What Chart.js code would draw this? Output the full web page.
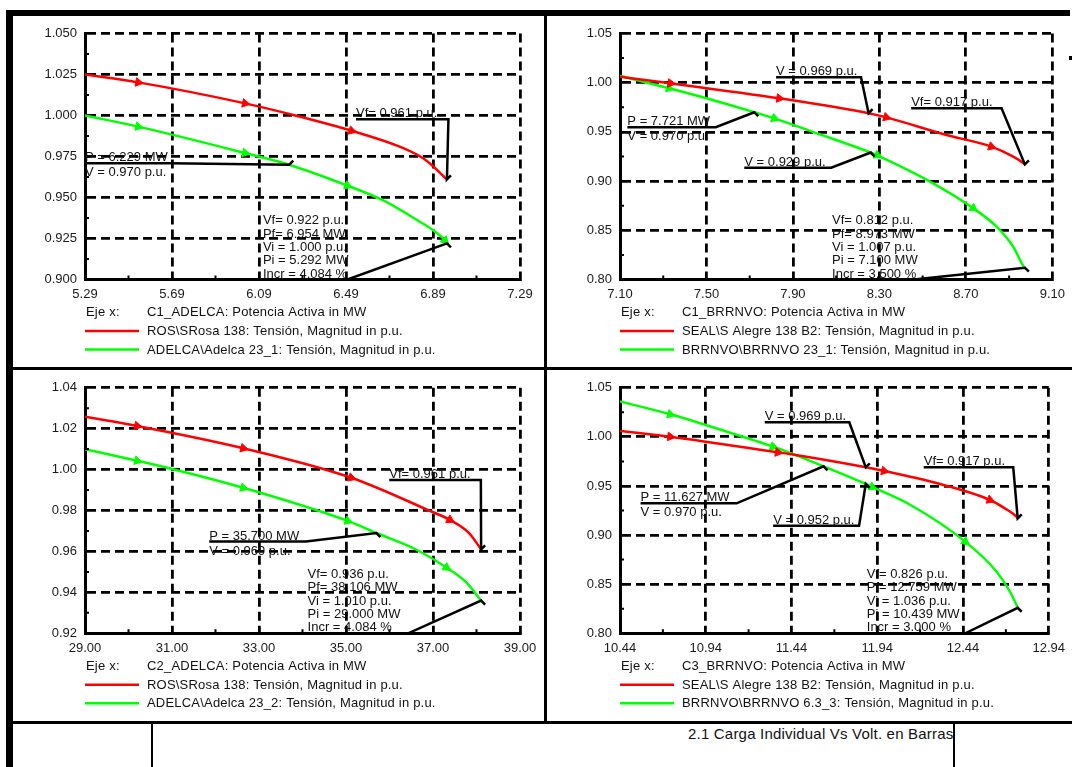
<!DOCTYPE html>
<html>
<head>
<meta charset="utf-8">
<script src="https://cdn.jsdelivr.net/npm/chart.js@4.4.1/dist/chart.umd.min.js"></script>
<style>
  html, body { margin: 0; padding: 0; background: #fff; }
  body { width: 1072px; height: 767px; position: relative; overflow: hidden;
         font-family: "Liberation Sans", Arial, sans-serif; }
  .bar { position: absolute; background: #000; z-index: 3; }
  canvas { position: absolute; }
  #title { position: absolute; left: 688px; top: 724px; height: 19px; line-height: 19px;
           font-size: 15px; color: #111; white-space: nowrap; z-index: 2; letter-spacing: 0.2px; }
</style>
</head>
<body>
<!-- sheet frame -->
<div class="bar" style="left:6px;top:10px;width:1064px;height:6px"></div>
<div class="bar" style="left:6px;top:10px;width:7px;height:757px"></div>
<div class="bar" style="left:544px;top:16px;width:3px;height:706px"></div>
<div class="bar" style="left:13px;top:367px;width:1059px;height:3px"></div>
<div class="bar" style="left:13px;top:721px;width:1059px;height:3px"></div>
<div class="bar" style="left:151px;top:724px;width:2px;height:43px"></div>
<div class="bar" style="left:953px;top:724px;width:2px;height:43px"></div>
<div class="bar" style="left:1069px;top:56px;width:3px;height:4px"></div>
<div id="title">2.1 Carga Individual Vs Volt. en Barras</div>

<canvas id="c1"></canvas>
<canvas id="c2"></canvas>
<canvas id="c3"></canvas>
<canvas id="c4"></canvas>

<script>
// ---------- C1_ADELCA ----------
const p1XTicks = ['5.29', '5.69', '6.09', '6.49', '6.89', '7.29'];
const p1YTicks = ['0.900', '0.925', '0.950', '0.975', '1.000', '1.025', '1.050'];
const p1RedP   = [5.29, 5.535, 6.026, 6.257, 6.516, 6.737, 6.841, 6.889, 6.937, 6.954];
const p1RedV   = [1.025, 1.0202, 1.0074, 1.000, 0.9907, 0.981, 0.9742, 0.9692, 0.9631, 0.961];
const p1RedMarks = [1, 2, 4];
const p1GreenP = [5.29, 5.535, 6.026, 6.229, 6.497, 6.657, 6.816, 6.889, 6.945, 6.954];
const p1GreenV = [1.000, 0.9932, 0.9771, 0.970, 0.9572, 0.9485, 0.9363, 0.9302, 0.9238, 0.922];
const p1GreenMarks = [1, 2, 4, 8];

// ---------- C1_BRRNVO ----------
const p2XTicks = ['7.10', '7.50', '7.90', '8.30', '8.70', '9.10'];
const p2YTicks = ['0.80', '0.85', '0.90', '0.95', '1.00', '1.05'];
const p2RedP   = [7.10, 7.334, 7.837, 8.25, 8.332, 8.61, 8.818, 8.919, 8.968, 8.973];
const p2RedV   = [1.006, 0.9994, 0.9841, 0.969, 0.9648, 0.9469, 0.935, 0.9248, 0.918, 0.917];
const p2RedMarks = [1, 2, 4, 6];
const p2GreenP = [7.10, 7.327, 7.528, 7.721, 7.814, 7.992, 8.26, 8.29, 8.53, 8.734, 8.842, 8.919, 8.968, 8.973];
const p2GreenV = [1.007, 0.9943, 0.9824, 0.970, 0.9638, 0.950, 0.929, 0.9262, 0.900, 0.8724, 0.8537, 0.8333, 0.813, 0.812];
const p2GreenMarks = [1, 4, 7, 9];

// ---------- C2_ADELCA ----------
const p3XTicks = ['29.00', '31.00', '33.00', '35.00', '37.00', '39.00'];
const p3YTicks = ['0.92', '0.94', '0.96', '0.98', '1.00', '1.02', '1.04'];
const p3RedP   = [29.00, 30.20, 32.64, 35.12, 36.91, 37.39, 37.83, 38.106];
const p3RedV   = [1.0258, 1.0213, 1.0104, 0.996, 0.980, 0.9754, 0.969, 0.961];
const p3RedMarks = [1, 2, 3, 5];
const p3GreenP = [29.00, 30.20, 31.00, 32.64, 35.04, 35.70, 36.63, 37.31, 37.75, 38.106];
const p3GreenV = [1.010, 1.0043, 1.0003, 0.9911, 0.9749, 0.969, 0.9607, 0.9521, 0.9452, 0.936];
const p3GreenMarks = [1, 3, 4, 7];

// ---------- C3_BRRNVO ----------
const p4XTicks = ['10.44', '10.94', '11.44', '11.94', '12.44', '12.94'];
const p4YTicks = ['0.80', '0.85', '0.90', '0.95', '1.00', '1.05'];
const p4RedP   = [10.44, 10.733, 11.361, 11.438, 11.873, 11.98, 12.327, 12.597, 12.684, 12.752, 12.759];
const p4RedV   = [1.006, 1.0001, 0.9842, 0.9822, 0.969, 0.9652, 0.951, 0.9357, 0.9272, 0.9187, 0.917];
const p4RedMarks = [1, 2, 5, 7];
const p4GreenP = [10.44, 10.733, 11.033, 11.333, 11.438, 11.627, 11.873, 11.91, 12.134, 12.453, 12.636, 12.714, 12.752, 12.759];
const p4GreenV = [1.036, 1.0229, 1.0069, 0.990, 0.9832, 0.970, 0.952, 0.949, 0.9306, 0.8933, 0.8627, 0.8423, 0.8288, 0.826];
const p4GreenMarks = [1, 3, 7, 9];

const RED = '#ff0000';
const GREEN = '#00ff00';
const FONT = '"Liberation Sans", Arial, sans-serif';

// cursor labels: text block anchored at (left, under) in data units,
// underline runs to "knee", then a leader goes to the marked value "at"
const p1Notes = [
  { lines: ['Vf= 0.961 p.u.'], above: 1, left: 6.536, under: 0.9977, knee: 6.961, at: [6.954, 0.961] },
  { lines: ['P = 6.229 MW', 'V = 0.970 p.u.'], above: 1, left: 5.29, under: 0.9709, knee: 5.681, at: [6.229, 0.970] },
  { lines: ['Vf= 0.922 p.u.', 'Pf= 6.954 MW', 'Vi = 1.000 p.u.', 'Pi = 5.292 MW', 'Incr = 4.084 %'],
    above: 5, left: 6.108, under: 0.900, knee: 6.497, at: [6.954, 0.922] }
];
const p2Notes = [
  { lines: ['V = 0.969 p.u.'], above: 1, left: 7.822, under: 1.0055, knee: 8.215, at: [8.25, 0.969] },
  { lines: ['Vf= 0.917 p.u.'], above: 1, left: 8.447, under: 0.974, knee: 8.865, at: [8.973, 0.917] },
  { lines: ['P = 7.721 MW', 'V = 0.970 p.u.'], above: 1, left: 7.134, under: 0.9547, knee: 7.543, at: [7.721, 0.970] },
  { lines: ['V = 0.929 p.u.'], above: 1, left: 7.675, under: 0.9136, knee: 8.077, at: [8.26, 0.929] },
  { lines: ['Vf= 0.812 p.u.', 'Pf= 8.973 MW', 'Vi = 1.007 p.u.', 'Pi = 7.100 MW', 'Incr = 3.500 %'],
    above: 5, left: 8.081, under: 0.80, knee: 8.46, at: [8.973, 0.812] }
];
const p3Notes = [
  { lines: ['Vf= 0.961 p.u.'], above: 1, left: 35.995, under: 0.9949, knee: 38.1, at: [38.106, 0.961] },
  { lines: ['P = 35.700 MW', 'V = 0.969 p.u.'], above: 1, left: 31.855, under: 0.9648, knee: 34.08, at: [35.7, 0.969] },
  { lines: ['Vf= 0.936 p.u.', 'Pf= 38.106 MW', 'Vi = 1.010 p.u.', 'Pi = 29.000 MW', 'Incr = 4.084 %'],
    above: 5, left: 34.117, under: 0.92, knee: 36.43, at: [38.106, 0.936] }
];
const p4Notes = [
  { lines: ['V = 0.969 p.u.'], above: 1, left: 11.284, under: 1.0148, knee: 11.777, at: [11.873, 0.969] },
  { lines: ['Vf= 0.917 p.u.'], above: 1, left: 12.211, under: 0.969, knee: 12.733, at: [12.759, 0.917] },
  { lines: ['P = 11.627 MW', 'V = 0.970 p.u.'], above: 1, left: 10.56, under: 0.9323, knee: 11.12, at: [11.627, 0.970] },
  { lines: ['V = 0.952 p.u.'], above: 1, left: 11.333, under: 0.9095, knee: 11.834, at: [11.873, 0.952] },
  { lines: ['Vf= 0.826 p.u.', 'Pf= 12.759 MW', 'Vi = 1.036 p.u.', 'Pi = 10.439 MW', 'Incr = 3.000 %'],
    above: 5, left: 11.879, under: 0.80, knee: 12.453, at: [12.759, 0.826] }
];

// small ticks halfway between grid lines, on the inside of both axes
const minorTicks = {
  id: 'minorTicks',
  afterDraw(chart) {
    const { ctx, scales: { x, y }, chartArea: a } = chart;
    ctx.save();
    ctx.strokeStyle = '#000';
    ctx.lineWidth = 2;
    ctx.beginPath();
    for (let i = 0; i < x.ticks.length - 1; i++) {
      const m = (x.getPixelForValue(x.ticks[i].value) + x.getPixelForValue(x.ticks[i + 1].value)) / 2;
      ctx.moveTo(m, a.bottom); ctx.lineTo(m, a.bottom - 4);
    }
    for (let i = 0; i < y.ticks.length - 1; i++) {
      const m = (y.getPixelForValue(y.ticks[i].value) + y.getPixelForValue(y.ticks[i + 1].value)) / 2;
      ctx.moveTo(a.left, m); ctx.lineTo(a.left + 4, m);
    }
    ctx.stroke();
    ctx.restore();
  }
};

// cursor text blocks with their underline and leader line
const notesPlugin = {
  id: 'notes',
  afterDatasetsDraw(chart, args, opts) {
    const { ctx, scales: { x, y } } = chart;
    ctx.save();
    ctx.font = '13px ' + FONT;
    ctx.fillStyle = '#111';
    ctx.textBaseline = 'alphabetic';
    ctx.strokeStyle = '#000';
    ctx.lineWidth = 2.5;
    ctx.lineJoin = 'miter';
    for (const n of opts.items) {
      const lx = x.getPixelForValue(n.left);
      const uy = y.getPixelForValue(n.under);
      const kx = x.getPixelForValue(n.knee);
      const px = x.getPixelForValue(n.at[0]);
      const py = y.getPixelForValue(n.at[1]);
      n.lines.forEach((t, i) => {
        const k = i - n.above;
        const by = k < 0 ? uy - 2 + (k + 1) * 13.3 : uy + 13 + k * 13.3;
        ctx.fillText(t, lx, by);
      });
      const s = py >= uy ? -1 : 1;
      ctx.beginPath();
      ctx.moveTo(lx, uy);
      ctx.lineTo(kx, uy);
      ctx.lineTo(px, py);
      ctx.lineTo(px + 4, py + 4 * s);
      ctx.stroke();
    }
    ctx.restore();
  }
};

// x-axis variable and curve key under each plot
const keyPlugin = {
  id: 'keyRows',
  afterDraw(chart, args, opts) {
    const { ctx, chartArea: a } = chart;
    ctx.save();
    ctx.font = '13px ' + FONT;
    ctx.fillStyle = '#111';
    ctx.textBaseline = 'middle';
    if ('letterSpacing' in ctx) ctx.letterSpacing = '0.2px';
    ctx.fillText('Eje x:', a.left + 1, a.bottom + 33);
    ctx.fillText(opts.axis, a.left + 62, a.bottom + 33);
    chart.data.datasets.forEach((ds, i) => {
      const yy = a.bottom + 51.5 + i * 18.5;
      ctx.strokeStyle = ds.borderColor;
      ctx.lineWidth = 2.5;
      ctx.beginPath();
      ctx.moveTo(a.left, yy);
      ctx.lineTo(a.left + 54, yy);
      ctx.stroke();
      ctx.fillText(ds.label, a.left + 62, yy + 0.5);
    });
    ctx.restore();
  }
};

function curve(label, xs, ys, marks, color) {
  return {
    label,
    data: xs.map((v, i) => ({ x: v, y: ys[i] })),
    borderColor: color,
    backgroundColor: color,
    borderWidth: 2.5,
    cubicInterpolationMode: 'monotone',
    pointStyle: 'triangle',
    pointBorderWidth: 1,
    pointHoverRadius: 0,
    pointRadius: c => (marks.includes(c.dataIndex) ? 5 : 0),
    pointRotation: c => {
      const d = c.dataset.data, i = c.dataIndex;
      const sx = c.chart.scales.x, sy = c.chart.scales.y;
      const a = d[Math.max(i - 1, 0)], b = d[Math.min(i + 1, d.length - 1)];
      const dx = sx.getPixelForValue(b.x) - sx.getPixelForValue(a.x);
      const dy = sy.getPixelForValue(b.y) - sy.getPixelForValue(a.y);
      return 90 + Math.atan2(dy, dx) * 180 / Math.PI;
    }
  };
}

function axis(labels, size) {
  const vals = labels.map(Number);
  return {
    type: 'linear',
    min: vals[0],
    max: vals[vals.length - 1],
    afterBuildTicks: s => { s.ticks = vals.map(v => ({ value: v })); },
    afterFit: size,
    ticks: { callback: (v, i) => labels[i], autoSkip: false, maxRotation: 0,
             color: '#1a1a1a', font: { family: FONT, size: 13 }, padding: 7 },
    grid: { color: '#000', lineWidth: 2.8, drawTicks: false },
    border: { display: true, color: '#000', width: 3, dash: [9, 5] }
  };
}

function panel(id, box, plot, xLabels, yLabels, axisName, datasets, notes) {
  const cv = document.getElementById(id);
  cv.width = box.w; cv.height = box.h;
  cv.style.left = box.x + 'px'; cv.style.top = box.y + 'px';
  cv.style.width = box.w + 'px'; cv.style.height = box.h + 'px';
  const xH = 40;
  const xs = axis(xLabels, s => { s.height = xH; });
  const ys = axis(yLabels, s => { s.width = plot.left - box.x; });
  ys.ticks.padding = 8;
  new Chart(cv, {
    type: 'line',
    data: { datasets },
    options: {
      responsive: false,
      animation: false,
      events: [],
      layout: { padding: {
        left: 0,
        top: plot.top - box.y,
        right: box.x + box.w - plot.right,
        bottom: box.y + box.h - plot.bottom - xH
      } },
      plugins: {
        legend: { display: false },
        tooltip: { enabled: false },
        notes: { items: notes },
        keyRows: { axis: axisName }
      },
      scales: { x: xs, y: ys }
    },
    plugins: [minorTicks, notesPlugin, keyPlugin]
  });
}

panel('c1', { x: 13, y: 17, w: 531, h: 350 }, { left: 85, top: 33.5, right: 520, bottom: 279.5 },
  p1XTicks, p1YTicks, 'C1_ADELCA: Potencia Activa in MW', [
    curve('ROS\\SRosa 138: Tensión, Magnitud in p.u.', p1RedP, p1RedV, p1RedMarks, RED),
    curve('ADELCA\\Adelca 23_1: Tensión, Magnitud in p.u.', p1GreenP, p1GreenV, p1GreenMarks, GREEN)
  ], p1Notes);

panel('c2', { x: 547, y: 17, w: 525, h: 350 }, { left: 620, top: 33.5, right: 1055, bottom: 279.5 },
  p2XTicks, p2YTicks, 'C1_BRRNVO: Potencia Activa in MW', [
    curve('SEAL\\S Alegre 138 B2: Tensión, Magnitud in p.u.', p2RedP, p2RedV, p2RedMarks, RED),
    curve('BRRNVO\\BRRNVO 23_1: Tensión, Magnitud in p.u.', p2GreenP, p2GreenV, p2GreenMarks, GREEN)
  ], p2Notes);

panel('c3', { x: 13, y: 370, w: 531, h: 351 }, { left: 85, top: 387.7, right: 520, bottom: 633.3 },
  p3XTicks, p3YTicks, 'C2_ADELCA: Potencia Activa in MW', [
    curve('ROS\\SRosa 138: Tensión, Magnitud in p.u.', p3RedP, p3RedV, p3RedMarks, RED),
    curve('ADELCA\\Adelca 23_2: Tensión, Magnitud in p.u.', p3GreenP, p3GreenV, p3GreenMarks, GREEN)
  ], p3Notes);

panel('c4', { x: 547, y: 370, w: 525, h: 351 }, { left: 620, top: 387.7, right: 1055, bottom: 633.3 },
  p4XTicks, p4YTicks, 'C3_BRRNVO: Potencia Activa in MW', [
    curve('SEAL\\S Alegre 138 B2: Tensión, Magnitud in p.u.', p4RedP, p4RedV, p4RedMarks, RED),
    curve('BRRNVO\\BRRNVO 6.3_3: Tensión, Magnitud in p.u.', p4GreenP, p4GreenV, p4GreenMarks, GREEN)
  ], p4Notes);
</script>
</body>
</html>
